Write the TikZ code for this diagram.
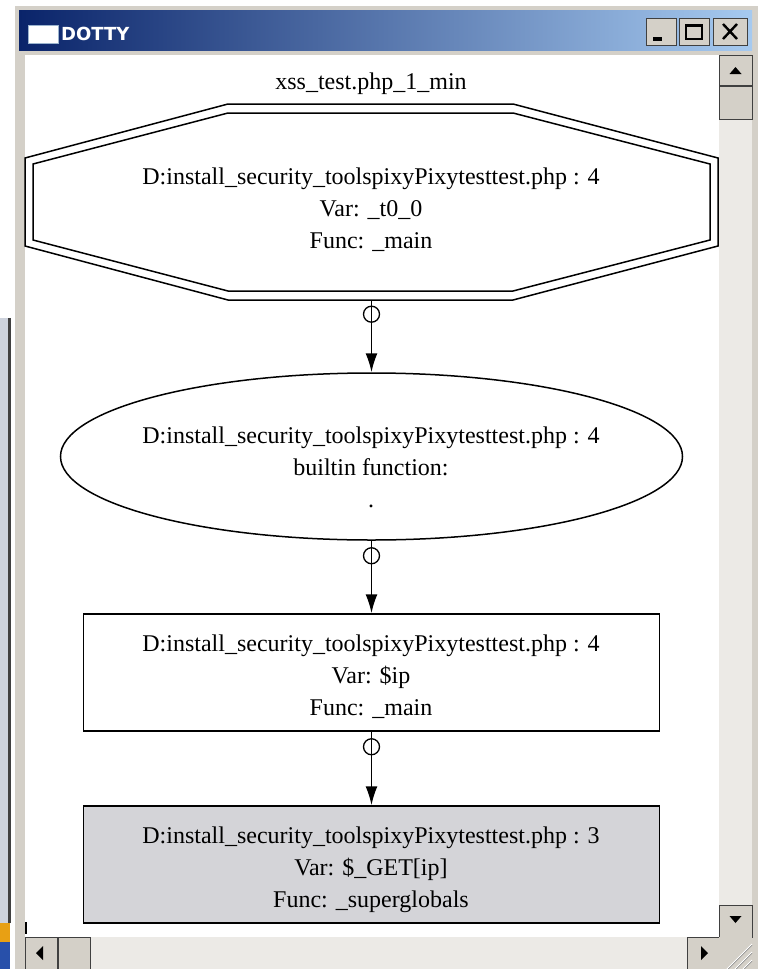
\documentclass[tikz,border=0pt]{standalone}
\usepackage{fontspec}
\setmainfont{Liberation Serif}
\newfontfamily\uifont{DejaVu Sans}
\usetikzlibrary{shapes.geometric,arrows.meta,calc}
\definecolor{wingray}{RGB}{212,208,200}
\definecolor{navy}{RGB}{10,36,106}
\definecolor{skyb}{RGB}{166,202,240}
\definecolor{track}{RGB}{236,234,230}
\definecolor{nodegray}{RGB}{212,212,216}
\definecolor{darkedge}{RGB}{64,64,64}
\definecolor{lbg}{RGB}{205,210,220}
\definecolor{orng}{RGB}{232,160,20}
\definecolor{bluebar}{RGB}{40,80,170}
\begin{document}
\begin{tikzpicture}[x=1pt,y=-1pt,
  lbl/.style={align=center,font=\fontsize{24}{32}\selectfont,inner sep=0pt},
  gshape/.style={draw=black,line width=1.5pt,inner sep=0pt},
  flow/.style={line width=1.7pt,-{Latex[length=19pt,width=12pt]}},
  ring/.style={line width=1.3pt},
  btn/.style={fill=wingray,draw=darkedge,line width=1pt},
  glyph/.style={fill=black},
]
\useasboundingbox (0,0) rectangle (758,969);
\fill[white] (0,0) rectangle (758,969);
% window behind, at the left
\fill[lbg] (0,318) rectangle (9,923);
\fill[darkedge] (8,318) rectangle (11,923);
\fill[orng] (0,923) rectangle (10,942);
\fill[bluebar] (0,942) rectangle (10,969);
% main window frame
\fill[wingray] (15,6) rectangle (758,969);
\shade[left color=navy,right color=skyb] (19,10) rectangle (752,50);
% icon and title
\fill[white] (28,25) rectangle (58,43);
\draw[skyb!70!gray,line width=1pt] (28,25) rectangle (58,43);
\node[text=white,font=\uifont\bfseries\fontsize{18}{18}\selectfont,anchor=west,inner sep=0pt] (ttl) at (61,34) {DOTTY};
% title buttons
\draw[btn] (646,18) rectangle (676,45);
\fill[black] (653,37) rectangle (662,41);
\draw[btn] (679,18) rectangle (709,45);
\draw[black,line width=1.2pt] (686,25) rectangle (702,39);
\draw[black,line width=2.5pt] (686,26) -- (702,26);
\draw[btn] (713,18) rectangle (747,45);
\draw[black,line width=2.4pt] (723,24) -- (737,39) (737,24) -- (723,39);
% content area
\fill[white] (25,55) rectangle (719,937);
% vertical scrollbar
\fill[track] (719,55) rectangle (752,937);
\draw[btn] (719,55) rectangle (752,85);
\fill[glyph] (729.5,74) -- (741.5,74) -- (735.5,67) -- cycle;
\draw[btn] (719,86) rectangle (752,119);
\draw[btn] (719,905) rectangle (752,937);
\fill[glyph] (729.5,916) -- (741.5,916) -- (735.5,923) -- cycle;
% horizontal scrollbar
\fill[track] (25,937) rectangle (719,969);
\draw[btn] (25,937) rectangle (57,969);
\fill[glyph] (36,953) -- (43,946) -- (43,960) -- cycle;
\draw[btn] (58,937) rectangle (90,969);
\draw[btn] (687,937) rectangle (719,969);
\fill[glyph] (708,953) -- (701,946) -- (701,960) -- cycle;
% size grip
\fill[wingray] (719,937) rectangle (752,969);
\foreach \d in {8,16,24}{
  \draw[gray,line width=1pt] (752-\d,969) -- (752,969-\d);
  \draw[white,line width=0.8pt] (751-\d,969) -- (752,968-\d);
}
\draw[black,line width=1.5pt] (26,922) -- (26,934);
% graph
\node[lbl] (title) at (371,84) {xss\_test.php\_1\_min};
\node[inner sep=0pt,minimum width=693pt,minimum height=196pt] (oct) at (371.5,202) {};
\draw[gshape] (228,104) -- (513,104) -- (718,158) -- (718,246) -- (513,300) -- (228,300) -- (25,246) -- (25,158) -- cycle;
\draw[gshape] (228,113) -- (513,113) -- (710,164) -- (710,240) -- (513,291) -- (228,291) -- (33,240) -- (33,164) -- cycle;
\node[lbl] (octtxt) at (371,210) {D:install\_security\_toolspixyPixytesttest.php : 4\\Var: \_t0\_0\\Func: \_main};
\node[gshape,ellipse,minimum width=622pt,minimum height=167pt] (ell) at (371.5,456.5) {};
\node[lbl] (elltxt) at (371,467) {D:install\_security\_toolspixyPixytesttest.php : 4\\builtin function:\\.};
\node[gshape,rectangle,minimum width=576pt,minimum height=117pt] (ra) at (371.5,672.5) {};
\node[lbl] (ratxt) at (371,677) {D:install\_security\_toolspixyPixytesttest.php : 4\\Var: \$ip\\Func: \_main};
\node[gshape,rectangle,fill=nodegray,minimum width=576pt,minimum height=117pt] (rb) at (371.5,864.5) {};
\node[lbl] (rbtxt) at (371,870) {D:install\_security\_toolspixyPixytesttest.php : 3\\Var: \$\_GET[ip]\\Func: \_superglobals};
% edges
\draw[ring] ($(oct.south)+(0,14)$) circle[radius=8pt];
\draw[flow] (oct.south) -- (ell.north);
\draw[ring] ($(ell.south)+(0,15)$) circle[radius=8pt];
\draw[flow] (ell.south) -- (ra.north);
\draw[ring] ($(ra.south)+(0,15)$) circle[radius=8pt];
\draw[flow] (ra.south) -- (rb.north);
\end{tikzpicture}
\end{document}
